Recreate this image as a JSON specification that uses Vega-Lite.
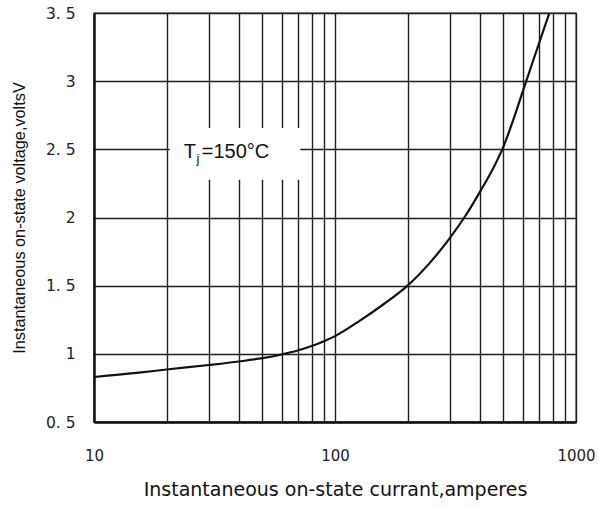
{
  "$schema": "https://vega.github.io/schema/vega-lite/v6.json",
  "width": 482,
  "height": 409,
  "autosize": {"type": "none"},
  "padding": {"left": 94, "top": 13, "right": 23, "bottom": 87},
  "background": "white",
  "config": {
    "view": {"stroke": "#9a9a9a", "strokeWidth": 2},
    "axis": {"gridColor": "#1e1e1e", "gridWidth": 1.4, "gridOpacity": 1, "ticks": false, "domainColor": "#111111", "domainWidth": 2.4}
  },
  "datasets": {
    "curve": [
      {"I": 10, "V": 0.83},
      {"I": 15, "V": 0.86},
      {"I": 20, "V": 0.885},
      {"I": 30, "V": 0.918},
      {"I": 40, "V": 0.944},
      {"I": 50, "V": 0.968},
      {"I": 60, "V": 0.995},
      {"I": 70, "V": 1.024},
      {"I": 80, "V": 1.057},
      {"I": 90, "V": 1.093},
      {"I": 100, "V": 1.13},
      {"I": 126, "V": 1.24},
      {"I": 158, "V": 1.36},
      {"I": 200, "V": 1.5},
      {"I": 251, "V": 1.68},
      {"I": 300, "V": 1.85},
      {"I": 350, "V": 2.02},
      {"I": 400, "V": 2.19},
      {"I": 450, "V": 2.35},
      {"I": 500, "V": 2.52},
      {"I": 550, "V": 2.72},
      {"I": 600, "V": 2.92},
      {"I": 700, "V": 3.27},
      {"I": 775, "V": 3.5}
    ],
    "box": [{"I": 20.6, "I2": 71.8, "V": 2.276, "V2": 2.657}],
    "t1": [{"I": 23.6, "V": 2.48, "label": "T"}],
    "t2": [{"I": 26.6, "V": 2.48, "label": "j"}],
    "t3": [{"I": 28.0, "V": 2.48, "label": "=150°C"}]
  },
  "encoding": {
    "x": {
      "field": "I", "type": "quantitative",
      "scale": {"type": "log", "domain": [10, 1000]},
      "axis": {
        "title": "Instantaneous on-state currant,amperes",
        "values": [10, 20, 30, 40, 50, 60, 70, 80, 90, 100, 200, 300, 400, 500, 600, 700, 800, 900, 1000],
        "labelExpr": "datum.value == 10 || datum.value == 100 || datum.value == 1000 ? format(datum.value, 'd') : ''",
        "labelFont": "DejaVu Sans", "labelFontSize": 15, "labelColor": "#222222", "labelPadding": 26,
        "labelOverlap": false, "labelFlush": false,
        "titleFont": "DejaVu Sans", "titleFontSize": 19, "titleFontWeight": "normal", "titleColor": "#111111", "titlePadding": 17
      }
    },
    "y": {
      "field": "V", "type": "quantitative",
      "scale": {"domain": [0.5, 3.5], "zero": false},
      "axis": {
        "title": "Instantaneous on-state voltage,voltsV",
        "values": [0.5, 1, 1.5, 2, 2.5, 3, 3.5],
        "labelExpr": "datum.value % 1 == 0 ? format(datum.value, 'd') : replace(format(datum.value, '.1f'), '.', '. ')",
        "labelFont": "DejaVu Sans", "labelFontSize": 15.5, "labelColor": "#222222", "labelPadding": 19,
        "labelOverlap": false, "labelFlush": false,
        "titleFont": "Liberation Sans", "titleFontSize": 16.3, "titleFontWeight": "normal", "titleColor": "#111111", "titlePadding": 18
      }
    }
  },
  "layer": [
    {
      "data": {"name": "box"},
      "mark": {"type": "rect", "fill": "white", "stroke": null},
      "encoding": {
        "x2": {"field": "I2"},
        "y2": {"field": "V2"}
      }
    },
    {
      "data": {"name": "t1"},
      "mark": {"type": "text", "font": "Liberation Sans", "fontSize": 20, "align": "left", "baseline": "middle", "color": "#111111"},
      "encoding": {"text": {"field": "label"}}
    },
    {
      "data": {"name": "t2"},
      "mark": {"type": "text", "font": "Liberation Sans", "fontSize": 13, "align": "left", "baseline": "middle", "dy": 7, "color": "#111111"},
      "encoding": {"text": {"field": "label"}}
    },
    {
      "data": {"name": "t3"},
      "mark": {"type": "text", "font": "Liberation Sans", "fontSize": 20, "align": "left", "baseline": "middle", "color": "#111111"},
      "encoding": {"text": {"field": "label"}}
    },
    {
      "data": {"name": "curve"},
      "mark": {"type": "line", "color": "#111111", "strokeWidth": 2.2, "interpolate": "monotone"},
      "encoding": {}
    }
  ]
}
